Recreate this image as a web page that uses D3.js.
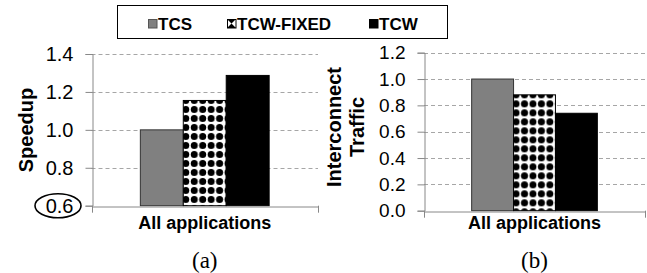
<!DOCTYPE html>
<html><head><meta charset="utf-8">
<script src="https://cdn.jsdelivr.net/npm/d3@7"></script>
<style>
html,body{margin:0;padding:0;background:#fff;}
svg{display:block;font-family:"Liberation Sans",Arial,sans-serif;}
</style></head>
<body>
<svg id="c" width="647" height="273"></svg>
<script>
const series = ["TCS", "TCW-FIXED", "TCW"];
const categories = ["All applications"];
const speedupValues = [1.0, 1.155, 1.287];
const trafficValues = [1.0, 0.88, 0.74];
const speedupTicks = [0.6, 0.8, 1.0, 1.2, 1.4];
const trafficTicks = [0.0, 0.2, 0.4, 0.6, 0.8, 1.0, 1.2];

const svg = d3.select("#c");
const defs = svg.append("defs");
const pat2 = defs.append("pattern").attr("id","dotsSmall").attr("patternUnits","userSpaceOnUse")
  .attr("width",9).attr("height",9).attr("x",227).attr("y",19);
pat2.append("rect").attr("width",9).attr("height",9).attr("fill","#fff");
pat2.append("path").attr("d","M0,0L9,0L4.5,4.5ZM0,9L9,9L4.5,4.5Z").attr("fill","#000");

// Legend
svg.append("rect").attr("x",117.5).attr("y",5.5).attr("width",330).attr("height",33)
  .attr("fill","#fff").attr("stroke","#000").attr("stroke-width",1);
const legX = [148, 227, 369];
const legendFills = ["#808080","url(#dotsSmall)","#000"];
series.forEach((s,i)=>{
  svg.append("rect").attr("x",legX[i]+0.5).attr("y",19.5).attr("width",8.5).attr("height",8.5)
    .attr("fill",legendFills[i]).attr("stroke",i===0?"#555":"#000").attr("stroke-width",1);
  svg.append("text").attr("x",legX[i]+10).attr("y",29.5).attr("font-size",17).attr("font-weight","bold")
    .attr("fill","#000").text(s);
});

function panel(opts){
  const g = svg.append("g");
  const x = d3.scaleBand().domain(categories).range([opts.x0, opts.x1]).padding(0.275);
  const xs = d3.scaleBand().domain(series).range([0, x.bandwidth()]).padding(0);
  const y = d3.scaleLinear().domain(opts.domain).range([opts.yb, opts.yt]);
  // pattern aligned to the patterned bar
  const px = x(categories[0]) + xs(series[1]);
  const py = y(opts.values[1]);
  const pid = "dots" + opts.caption.replace(/\W/g,"");
  const pat = defs.append("pattern").attr("id",pid).attr("patternUnits","userSpaceOnUse")
    .attr("width",8.45).attr("height",9).attr("x",px + 2.5 - 4.225).attr("y",py - 4.5);
  pat.append("rect").attr("width",8.45).attr("height",9).attr("fill","#fff");
  pat.append("circle").attr("cx",4.225).attr("cy",4.5).attr("r",3.5).attr("fill","#000");
  const fills = ["#808080",`url(#${pid})`,"#000"];
  const color = d3.scaleOrdinal().domain(series).range(fills);
  // gridlines
  g.selectAll(".grid").data(opts.ticks.slice(1)).enter().append("line")
    .attr("x1",opts.x0).attr("x2",opts.x1)
    .attr("y1",d=>Math.round(y(d))+0.5).attr("y2",d=>Math.round(y(d))+0.5)
    .attr("stroke","#a6a6a6").attr("stroke-width",1).attr("stroke-dasharray","4,3");
  // bars
  categories.forEach(c=>{
    g.selectAll(null).data(opts.values).enter().append("rect")
      .attr("x",(d,i)=>x(c)+xs(series[i]))
      .attr("width",xs.bandwidth())
      .attr("y",d=>y(d))
      .attr("height",d=>y(opts.domain[0])-y(d))
      .attr("fill",(d,i)=>color(series[i]))
      .attr("stroke",(d,i)=>i===0?"#333":"#000").attr("stroke-width",1);
  });
  // y axis
  const ya = d3.axisLeft(y).tickValues(opts.ticks).tickFormat(d3.format(".1f")).tickSize(7).tickPadding(12);
  const yg = g.append("g").attr("transform",`translate(${Math.round(opts.x0)+0.5},0)`).call(ya);
  yg.select(".domain").attr("stroke","#888");
  yg.selectAll(".tick line").attr("stroke","#888");
  yg.selectAll(".tick text").attr("font-size",opts.tickFont).attr("fill","#000")
    .attr("font-family","'Liberation Sans',Arial,sans-serif");
  // x axis
  const xa = d3.axisBottom(x).tickSize(0).tickFormat("");
  const xg = g.append("g").attr("transform",`translate(0,${Math.round(opts.yb)+0.5})`).call(xa);
  xg.select(".domain").attr("stroke","#888");
  [opts.x0, opts.x1].forEach(p=>{
    g.append("line").attr("x1",Math.round(p)+0.5).attr("x2",Math.round(p)+0.5)
      .attr("y1",opts.yb).attr("y2",opts.yb+7).attr("stroke","#888");
  });
  categories.forEach(c=>{
    g.append("text").attr("x",x(c)+x.bandwidth()/2).attr("y",229).attr("text-anchor","middle")
      .attr("font-size",18).attr("font-weight","bold").text(c);
  });
  g.append("text").attr("x",x(categories[0])+x.bandwidth()/2).attr("y",268).attr("text-anchor","middle")
    .attr("font-family","'Liberation Serif','Times New Roman',serif").attr("font-size",23).text(opts.caption);
  // title
  const t = g.append("text").attr("transform",`translate(${opts.tx},${opts.ty}) rotate(-90)`)
    .attr("text-anchor","middle").attr("font-size",opts.titleFont).attr("font-weight","bold");
  opts.title.forEach((line,i)=>{
    t.append("tspan").attr("x",0).attr("dy",i===0?0:opts.lineH).text(line);
  });
  return {y};
}

const pa = panel({x0:91.5,x1:318,yb:205.7,yt:54,domain:[0.6,1.4],ticks:speedupTicks,values:speedupValues,
  caption:"(a)",title:["Speedup"],tx:33,ty:130,titleFont:20,lineH:0,tickFont:20});
const pb = panel({x0:424,x1:645,yb:210.7,yt:52.7,domain:[0,1.2],ticks:trafficTicks,values:trafficValues,
  caption:"(b)",title:["Interconnect","Traffic"],tx:341,ty:127,titleFont:20,lineH:23,tickFont:19});

// circle around 0.6 label
svg.append("ellipse").attr("cx",58).attr("cy",pa.y(0.6)).attr("rx",23).attr("ry",12)
  .attr("fill","none").attr("stroke","#000").attr("stroke-width",1.6);
</script>
</body></html>
